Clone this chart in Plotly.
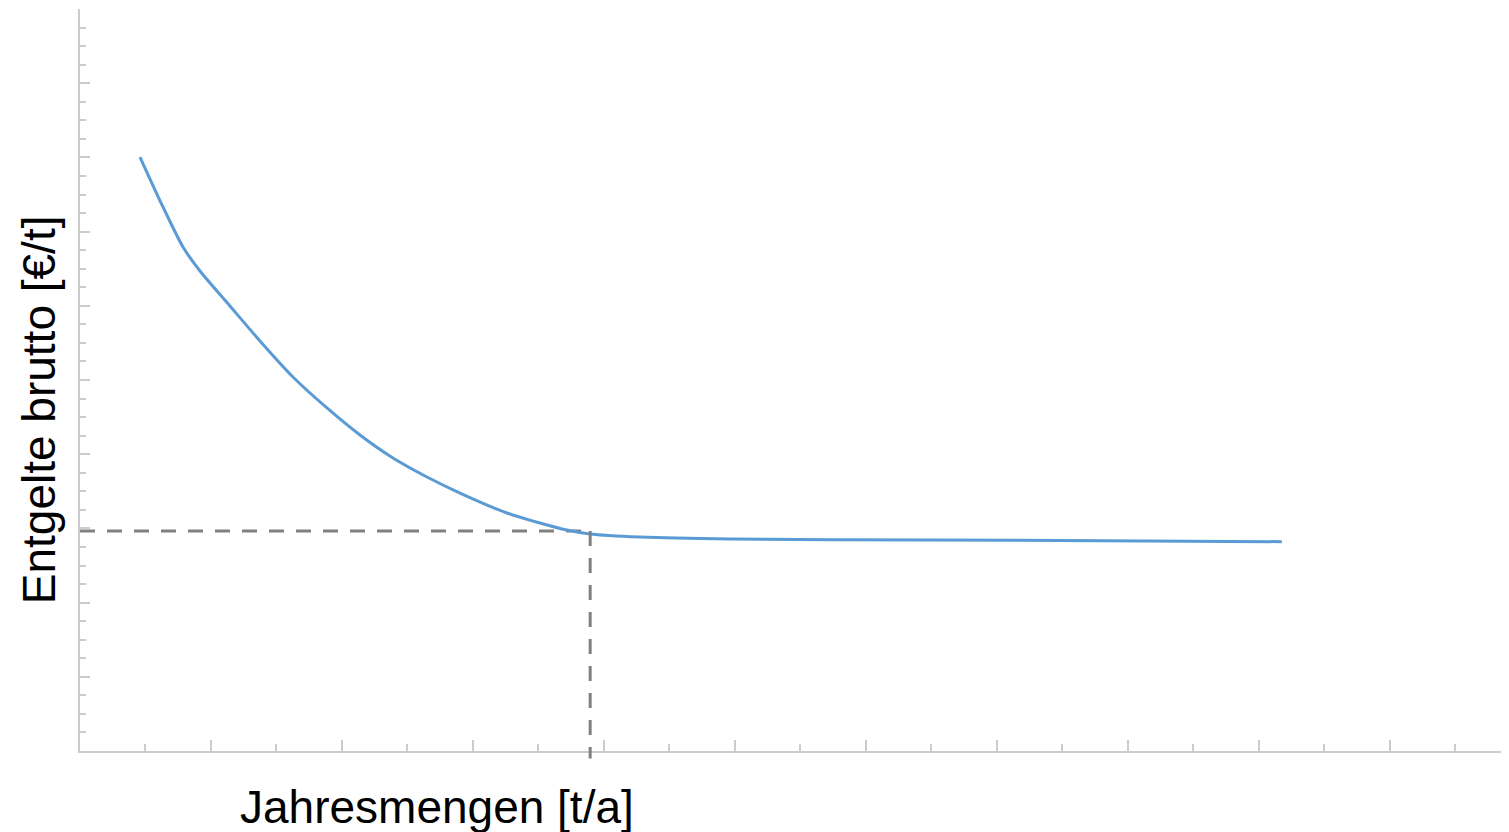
import plotly.graph_objects as go

# Curve (data units: x minor tick = 1, y major tick = 1)
menge_x = [0.916, 1.267, 1.573, 1.832, 2.290, 2.748, 3.252, 3.771, 4.275, 4.779,
           5.298, 5.802, 6.519, 7.023, 7.435, 7.786, 8.550, 9.924, 12.977, 15.6,
           18.351]
entgelt_y = [8.005, 7.332, 6.792, 6.469, 5.997, 5.526, 5.040, 4.623, 4.259, 3.949,
             3.693, 3.477, 3.208, 3.073, 2.978, 2.925, 2.884, 2.857, 2.844, 2.834,
             2.821]

ref_x = 7.79   # vertical dashed line
ref_y = 2.965  # horizontal dashed line

x_title = "Jahresmengen [t/a]"
y_title = "Entgelte brutto [€/t]"

axis_col = "#cccccc"
dash_col = "#808080"
curve_col = "#5b9bd5"

fig = go.Figure()

fig.add_trace(go.Scatter(
    x=[0, ref_x], y=[ref_y, ref_y], mode="lines",
    line=dict(color=dash_col, width=3, dash="15px,12px"),
    hoverinfo="skip", showlegend=False))

fig.add_shape(type="line", xref="x", yref="paper",
              x0=ref_x, x1=ref_x, y0=ref_y / 10.0, y1=-0.01,
              line=dict(color=dash_col, width=3, dash="15px,12px"),
              layer="above")

fig.add_trace(go.Scatter(
    x=menge_x, y=entgelt_y, mode="lines",
    line=dict(color=curve_col, width=3, shape="spline", smoothing=0.7),
    hoverinfo="skip", showlegend=False))

# page body has an 8px default margin, so the figure is shrunk to fit the window
fig.update_layout(
    width=1501, height=824,
    margin=dict(l=72, r=0, t=1, b=81),
    paper_bgcolor="white", plot_bgcolor="white",
    font=dict(family="Liberation Sans, Arial, sans-serif", color="#000000"),
    showlegend=False,
)

fig.update_xaxes(
    range=[0, 21.82], showgrid=False, zeroline=False,
    showline=True, linecolor=axis_col, linewidth=2,
    ticks="inside", tickcolor=axis_col, tickwidth=1.5, ticklen=11,
    tick0=0, dtick=2, showticklabels=False,
    minor=dict(ticks="inside", tickcolor=axis_col, tickwidth=1.5, ticklen=7,
               tick0=1, dtick=1, showgrid=False),
)
fig.update_yaxes(
    range=[0, 10], showgrid=False, zeroline=False,
    showline=True, linecolor=axis_col, linewidth=2,
    ticks="inside", tickcolor=axis_col, tickwidth=1.5, ticklen=10,
    tick0=0, dtick=1, showticklabels=False,
    minor=dict(ticks="inside", tickcolor=axis_col, tickwidth=1.5, ticklen=6,
               tick0=0, dtick=0.25, showgrid=False),
)

fig.add_annotation(text=x_title, xref="x", yref="paper", x=5.45, y=-0.0755,
                   xanchor="center", yanchor="middle", showarrow=False,
                   font=dict(size=46, color="#000000"))
fig.add_annotation(text=y_title, xref="paper", yref="y", x=-0.029, y=4.6,
                   xanchor="center", yanchor="middle", textangle=-90,
                   showarrow=False, font=dict(size=46, color="#000000"))

fig.write_html("out.html")
